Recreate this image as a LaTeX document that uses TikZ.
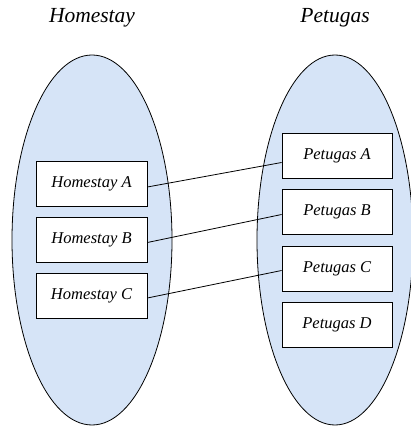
\documentclass[tikz,border=0pt]{standalone}
\usepackage{fontspec}
\setmainfont{Liberation Serif}
\usetikzlibrary{shapes.geometric}
\definecolor{setfill}{RGB}{214,228,247}
\begin{document}
\begin{tikzpicture}[x=1pt,y=1pt,
  setshape/.style={ellipse,draw=black,line width=0.8pt,fill=setfill,inner sep=0pt},
  itembox/.style={draw=black,line width=0.8pt,fill=white,minimum height=45pt,inner sep=0pt,font=\fontsize{16.5}{18}\selectfont\itshape},
  title/.style={font=\fontsize{21.5}{24}\selectfont\itshape},
  link/.style={line width=0.8pt}]
\useasboundingbox (0,0) rectangle (411,426);
\node[setshape,minimum width=160pt,minimum height=370pt] (L) at (92,186) {};
\node[setshape,minimum width=156pt,minimum height=370pt] (R) at (335,186) {};
\node[title] (tL) at (92,408) {Homestay};
\node[title] (tR) at (335,408) {Petugas};
\node[itembox,minimum width=111pt] (ha) at (91.5,242) {Homestay A};
\node[itembox,minimum width=111pt] (hb) at (91.5,186.5) {Homestay B};
\node[itembox,minimum width=111pt] (hc) at (91.5,130) {Homestay C};
\node[itembox,minimum width=110pt] (pa) at (337,270.5) {Petugas A};
\node[itembox,minimum width=110pt] (pb) at (337,214.5) {Petugas B};
\node[itembox,minimum width=110pt] (pc) at (337,157.5) {Petugas C};
\node[itembox,minimum width=110pt] (pd) at (337,101.5) {Petugas D};
\draw[link] ([yshift=-3pt]ha.east) -- ([yshift=-7pt]pa.west);
\draw[link] ([yshift=-3pt]hb.east) -- ([yshift=-3pt]pb.west);
\draw[link] ([yshift=-2pt]hc.east) -- ([yshift=-2pt]pc.west);
\end{tikzpicture}
\end{document}
